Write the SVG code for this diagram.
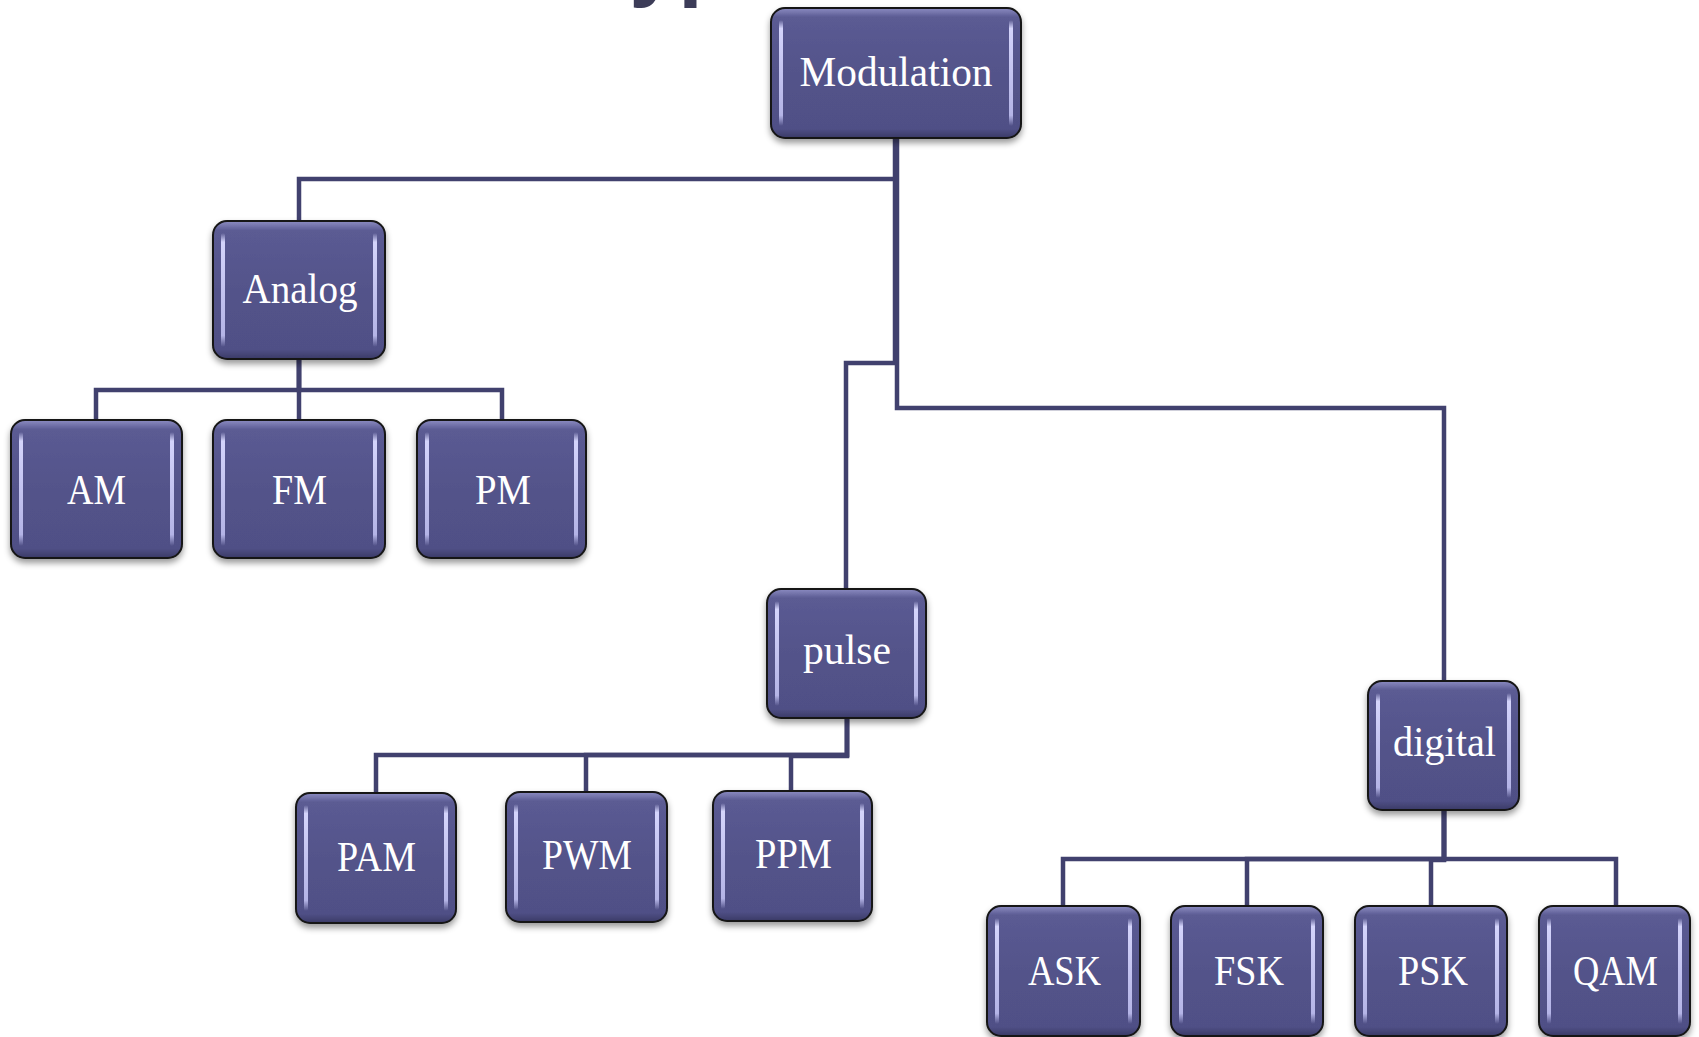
<svg xmlns="http://www.w3.org/2000/svg" width="1699" height="1037" viewBox="0 0 1699 1037">
  <defs>
    <!-- glossy body of every box -->
    <linearGradient id="body" x1="0" y1="0" x2="0" y2="1">
      <stop offset="0" stop-color="#8c8cc2"/>
      <stop offset="0.07" stop-color="#5b5b93"/>
      <stop offset="0.5" stop-color="#53538a"/>
      <stop offset="0.93" stop-color="#505086"/>
      <stop offset="1" stop-color="#3a3a66"/>
    </linearGradient>
    <!-- vertical side highlights -->
    <linearGradient id="shine" x1="0" y1="0" x2="0" y2="1">
      <stop offset="0" stop-color="#d8d8ff" stop-opacity="0"/>
      <stop offset="0.08" stop-color="#d4d4fb"/>
      <stop offset="0.9" stop-color="#b4b4e6"/>
      <stop offset="1" stop-color="#b4b4e6" stop-opacity="0"/>
    </linearGradient>
    <filter id="drop" x="-10%" y="-10%" width="120%" height="130%">
      <feDropShadow dx="0" dy="4" stdDeviation="3" flood-color="#000" flood-opacity="0.4"/>
    </filter>
  </defs>
  <style>
    .box { fill: url(#body); stroke: #141414; stroke-width: 2; filter: url(#drop); }
    .hl { fill: url(#shine); }
    .lbl { font-family: "Liberation Serif", "Times New Roman", serif; font-size: 42px; fill: #ffffff; text-anchor: middle; }
    .title { font-family: "Liberation Sans", Arial, sans-serif; font-weight: bold; font-size: 88px; fill: #3c3c58; }
    .wire { fill: none; stroke: #41416e; stroke-width: 4.5; stroke-linejoin: miter; stroke-linecap: butt; }
  </style>

  <rect width="1699" height="1037" fill="#ffffff"/>

  <!-- slide title, running above the top edge -->
  <text class="title" x="582" y="-10">Types of Modulation</text>

  <!-- tree connectors -->
  <g id="connectors">
    <path class="wire" d="M896 138 V179 H299 V221"/>
    <path class="wire" d="M895 138 V363 H846 V589"/>
    <path class="wire" d="M897 138 V408 H1444 V681"/>
    <path class="wire" d="M299 359 V390 H96 V420"/>
    <path class="wire" d="M299 359 V420"/>
    <path class="wire" d="M299 359 V390 H502 V420"/>
    <path class="wire" d="M847 718 V755 H376 V793"/>
    <path class="wire" d="M847 718 V755 H586 V792"/>
    <path class="wire" d="M847 718 V756 H791 V791"/>
    <path class="wire" d="M1444 810 V859 H1063 V907"/>
    <path class="wire" d="M1444 810 V859 H1247 V907"/>
    <path class="wire" d="M1444 810 V860 H1431 V907"/>
    <path class="wire" d="M1444 810 V859 H1616 V907"/>
  </g>

  <g id="node-modulation">
    <rect class="box" x="771" y="8" width="250" height="130" rx="14"/>
    <rect class="hl" x="779" y="20" width="4" height="106" rx="2"/>
    <rect class="hl" x="1009" y="20" width="4" height="106" rx="2"/>
    <text class="lbl" x="896" y="86" textLength="193" lengthAdjust="spacingAndGlyphs">Modulation</text>
  </g>

  <g id="node-analog">
    <rect class="box" x="213" y="221" width="172" height="138" rx="14"/>
    <rect class="hl" x="221" y="233" width="4" height="114" rx="2"/>
    <rect class="hl" x="373" y="233" width="4" height="114" rx="2"/>
    <text class="lbl" x="300" y="303" textLength="115" lengthAdjust="spacingAndGlyphs">Analog</text>
  </g>

  <g id="node-am">
    <rect class="box" x="11" y="420" width="171" height="138" rx="14"/>
    <rect class="hl" x="19" y="432" width="4" height="114" rx="2"/>
    <rect class="hl" x="170" y="432" width="4" height="114" rx="2"/>
    <text class="lbl" x="96.5" y="504" textLength="59" lengthAdjust="spacingAndGlyphs">AM</text>
  </g>

  <g id="node-fm">
    <rect class="box" x="213" y="420" width="172" height="138" rx="14"/>
    <rect class="hl" x="221" y="432" width="4" height="114" rx="2"/>
    <rect class="hl" x="373" y="432" width="4" height="114" rx="2"/>
    <text class="lbl" x="299.5" y="504" textLength="55" lengthAdjust="spacingAndGlyphs">FM</text>
  </g>

  <g id="node-pm">
    <rect class="box" x="417" y="420" width="169" height="138" rx="14"/>
    <rect class="hl" x="425" y="432" width="4" height="114" rx="2"/>
    <rect class="hl" x="574" y="432" width="4" height="114" rx="2"/>
    <text class="lbl" x="503" y="504" textLength="56" lengthAdjust="spacingAndGlyphs">PM</text>
  </g>

  <g id="node-pulse">
    <rect class="box" x="767" y="589" width="159" height="129" rx="14"/>
    <rect class="hl" x="775" y="601" width="4" height="105" rx="2"/>
    <rect class="hl" x="914" y="601" width="4" height="105" rx="2"/>
    <text class="lbl" x="847" y="664" textLength="88" lengthAdjust="spacingAndGlyphs">pulse</text>
  </g>

  <g id="node-pam">
    <rect class="box" x="296" y="793" width="160" height="130" rx="14"/>
    <rect class="hl" x="304" y="805" width="4" height="106" rx="2"/>
    <rect class="hl" x="444" y="805" width="4" height="106" rx="2"/>
    <text class="lbl" x="376.5" y="871" textLength="79" lengthAdjust="spacingAndGlyphs">PAM</text>
  </g>

  <g id="node-pwm">
    <rect class="box" x="506" y="792" width="161" height="130" rx="14"/>
    <rect class="hl" x="514" y="804" width="4" height="106" rx="2"/>
    <rect class="hl" x="655" y="804" width="4" height="106" rx="2"/>
    <text class="lbl" x="587" y="869" textLength="90" lengthAdjust="spacingAndGlyphs">PWM</text>
  </g>

  <g id="node-ppm">
    <rect class="box" x="713" y="791" width="159" height="130" rx="14"/>
    <rect class="hl" x="721" y="803" width="4" height="106" rx="2"/>
    <rect class="hl" x="860" y="803" width="4" height="106" rx="2"/>
    <text class="lbl" x="793.5" y="868" textLength="77" lengthAdjust="spacingAndGlyphs">PPM</text>
  </g>

  <g id="node-digital">
    <rect class="box" x="1368" y="681" width="151" height="129" rx="14"/>
    <rect class="hl" x="1376" y="693" width="4" height="105" rx="2"/>
    <rect class="hl" x="1507" y="693" width="4" height="105" rx="2"/>
    <text class="lbl" x="1444.5" y="756" textLength="103" lengthAdjust="spacingAndGlyphs">digital</text>
  </g>

  <g id="node-ask">
    <rect class="box" x="987" y="906" width="153" height="130" rx="14"/>
    <rect class="hl" x="995" y="918" width="4" height="106" rx="2"/>
    <rect class="hl" x="1128" y="918" width="4" height="106" rx="2"/>
    <text class="lbl" x="1064.5" y="985" textLength="73" lengthAdjust="spacingAndGlyphs">ASK</text>
  </g>

  <g id="node-fsk">
    <rect class="box" x="1171" y="906" width="152" height="130" rx="14"/>
    <rect class="hl" x="1179" y="918" width="4" height="106" rx="2"/>
    <rect class="hl" x="1311" y="918" width="4" height="106" rx="2"/>
    <text class="lbl" x="1249" y="985" textLength="70" lengthAdjust="spacingAndGlyphs">FSK</text>
  </g>

  <g id="node-psk">
    <rect class="box" x="1355" y="906" width="152" height="130" rx="14"/>
    <rect class="hl" x="1363" y="918" width="4" height="106" rx="2"/>
    <rect class="hl" x="1495" y="918" width="4" height="106" rx="2"/>
    <text class="lbl" x="1433" y="985" textLength="70" lengthAdjust="spacingAndGlyphs">PSK</text>
  </g>

  <g id="node-qam">
    <rect class="box" x="1539" y="906" width="151" height="130" rx="14"/>
    <rect class="hl" x="1547" y="918" width="4" height="106" rx="2"/>
    <rect class="hl" x="1678" y="918" width="4" height="106" rx="2"/>
    <text class="lbl" x="1615.5" y="985" textLength="85" lengthAdjust="spacingAndGlyphs">QAM</text>
  </g>
</svg>
